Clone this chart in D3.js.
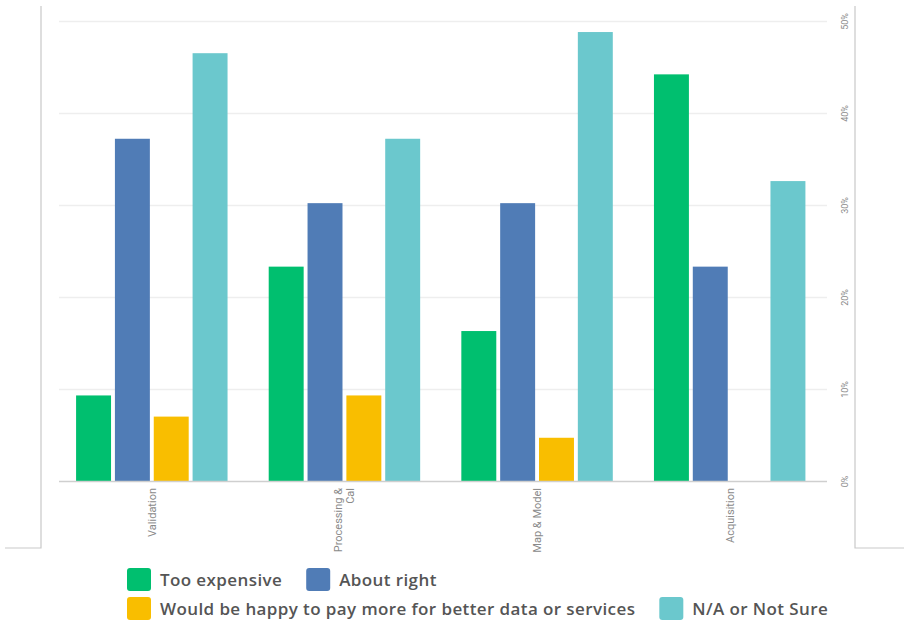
<!DOCTYPE html>
<html>
<head>
<meta charset="utf-8">
<script src="https://cdn.jsdelivr.net/npm/d3@7"></script>
<style>
  html, body { margin: 0; padding: 0; background: #fff; }
  svg { display: block; }
</style>
</head>
<body>
<svg id="chart" width="904" height="623"></svg>
<script>
// ---- data ----
const categories = ["Validation", "Processing & Cal", "Map & Model", "Acquisition"];
const categoryLines = [["Validation"], ["Processing &", "Cal"], ["Map & Model"], ["Acquisition"]];
const seriesNames = ["Too expensive", "About right", "Would be happy to pay more for better data or services", "N/A or Not Sure"];
const seriesColors = ["#00BF6F", "#507CB6", "#F9BE00", "#6BC8CD"];
const tooExpensive = [9.3, 23.3, 16.3, 44.2];
const aboutRight   = [37.2, 30.2, 30.2, 23.3];
const happyToPay   = [7.0, 9.3, 4.7, 0];
const notSure      = [46.5, 37.2, 48.8, 32.6];
const yTicks = [0, 10, 20, 30, 40, 50];
const yTickLabels = ["0%", "10%", "20%", "30%", "40%", "50%"];

const seriesValues = [tooExpensive, aboutRight, happyToPay, notSure];

const svg = d3.select("#chart");

// frame lines (screenshot borders)
const frame = svg.append("g").attr("stroke", "#c9c9c9").attr("stroke-width", 1.2).attr("fill", "none");
frame.append("path").attr("d", "M41,6V548H5");
frame.append("path").attr("d", "M855,6V548H904");

const plotLeft = 55.5, plotRight = 826, gridLeft = 59, gridRight = 827;
const y = d3.scaleLinear().domain([0, 50]).range([481, 21]);
const x0 = d3.scaleBand().domain(categories).range([plotLeft, plotRight]).paddingInner(0).paddingOuter(0);
const x1 = d3.scaleBand().domain(seriesNames).range([0, x0.bandwidth()]).paddingInner(0.1).paddingOuter(0.53);

// gridlines
svg.append("g").selectAll("line").data(yTicks.filter(d => d > 0)).join("line")
  .attr("x1", gridLeft).attr("x2", gridRight)
  .attr("y1", d => Math.round(y(d)) + 0.5).attr("y2", d => Math.round(y(d)) + 0.5)
  .attr("stroke", "#eeeeee").attr("stroke-width", 1.5);

// bars
const rows = categories.map((c, i) => ({cat: c, vals: seriesNames.map((s, j) => ({s, j, v: seriesValues[j][i]}))}));
const groups = svg.append("g").selectAll("g").data(rows).join("g")
  .attr("transform", d => `translate(${x0(d.cat)},0)`);
groups.selectAll("rect").data(d => d.vals.filter(e => e.v > 0)).join("rect")
  .attr("x", d => x1(d.s))
  .attr("width", x1.bandwidth())
  .attr("y", d => y(d.v))
  .attr("height", d => y(0) - y(d.v))
  .attr("fill", d => seriesColors[d.j]);

// baseline
svg.append("line").attr("x1", gridLeft).attr("x2", gridRight)
  .attr("y1", y(0) + 0.5).attr("y2", y(0) + 0.5)
  .attr("stroke", "#cfcfcf").attr("stroke-width", 1.5);

// y axis labels (right side, rotated)
const yAxis = d3.axisRight(y).tickValues(yTicks).tickFormat((d, i) => yTickLabels[i]).tickSize(0);
const yg = svg.append("g").attr("transform", "translate(845,0)").call(yAxis);
yg.select(".domain").remove();
yg.selectAll("text")
  .attr("x", 0).attr("dy", 0)
  .attr("transform", "rotate(-90)")
  .attr("text-anchor", "middle")
  .attr("dominant-baseline", "central")
  .attr("fill", "#8a8a8a")
  .style("font-family", "Roboto, 'Open Sans', sans-serif")
  .style("font-size", "9px");

// x axis labels (rotated)
const xAxis = d3.axisBottom(x0).tickSize(0).tickFormat("");
const xg = svg.append("g").attr("transform", `translate(0,${y(0)})`).call(xAxis);
xg.select(".domain").remove();
xg.selectAll(".tick").each(function(d, i) {
  const lines = categoryLines[i];
  const t = d3.select(this).select("text")
    .attr("y", 0).attr("dy", null)
    .attr("transform", "translate(0,7) rotate(-90)")
    .attr("text-anchor", "end")
    .attr("fill", "#8a8a8a")
    .style("font-family", "Roboto, 'Open Sans', sans-serif")
    .style("font-size", "11px");
  t.text(null);
  const n = lines.length;
  lines.forEach((ln, k) => {
    t.append("tspan").attr("x", 0)
      .attr("y", ((k - (n - 1) / 2) * 12) + 4)
      .text(ln);
  });
});

// legend
const legend = svg.append("g");
const legStartX = 127, legMaxX = 845, rowH = 29, legY = 568;
let cx = legStartX, row = 0;
seriesNames.forEach((s, i) => {
  const g = legend.append("g");
  g.append("rect").attr("width", 24).attr("height", 23).attr("rx", 3)
    .attr("fill", seriesColors[i]);
  const txt = g.append("text").attr("x", 33).attr("y", 18)
    .attr("fill", "#555")
    .style("font-family", "'Open Sans', sans-serif")
    .style("font-weight", 600)
    .style("font-size", "17px")
    .style("letter-spacing", "0.4px")
    .text(s);
  const w = 33 + txt.node().getComputedTextLength();
  if (cx + w > legMaxX && cx > legStartX) { row++; cx = legStartX; }
  g.attr("transform", `translate(${cx},${legY + row * rowH})`);
  cx += w + 24;
});
</script>
</body>
</html>
